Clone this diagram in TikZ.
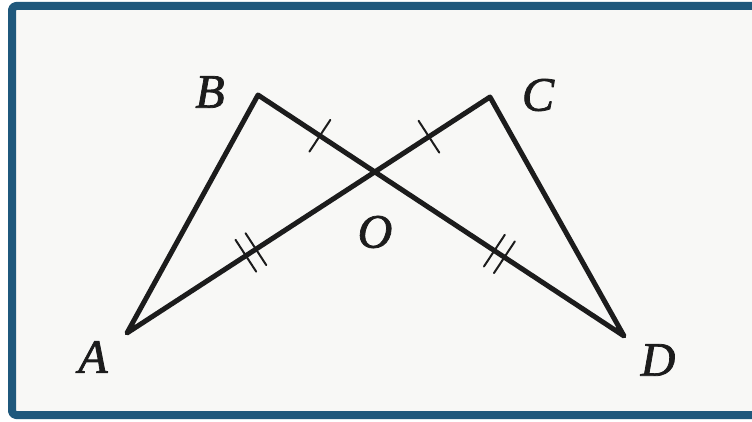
\documentclass[tikz,border=0pt]{standalone}
\usepackage{fontspec}
\setmainfont{Liberation Serif}
\newfontface\vface[FakeBold=1.6]{Liberation Serif Italic}
\usetikzlibrary{calc}
\definecolor{FRblue}{HTML}{1F587C}
\definecolor{FRpaper}{HTML}{F8F8F6}
\definecolor{FRink}{HTML}{1C1C1C}
% one tick / two ticks across the middle of a segment
\newcommand{\onetick}[2]{%
  \coordinate (mid) at ($(#1)!0.53!(#2)$);
  \draw[tick] ($(mid)!19pt!90:(#2)$) -- ($(mid)!19pt!-90:(#2)$);}
\newcommand{\twotick}[2]{%
  \foreach \d in {-6,6} {
    \coordinate (mid) at ($(#1)!0.5!(#2)!\d pt!(#2)$);
    \draw[tick] ($(mid)!19pt!90:(#2)$) -- ($(mid)!19pt!-90:(#2)$);
  }}

\begin{document}
\begin{tikzpicture}[
  x=1pt,y=1pt,
  line cap=round,line join=round,
  edge/.style={draw=FRink,line width=5pt},
  tick/.style={draw=FRink,line width=2pt},
  vlabel/.style={font=\vface\fontsize{48}{50}\selectfont,text=FRink,inner sep=0pt}
]
\useasboundingbox (0,0) rectangle (752,421);
\clip (0,0) rectangle (752,421);
\fill[white] (0,0) rectangle (752,421);
\fill[FRpaper] (12,6) rectangle (770,415);
\draw[FRblue,line width=8pt,rounded corners=4pt] (12,6) rectangle (770,415);

% vertices
\coordinate (A) at (127,88);
\coordinate (B) at (258,326);
\coordinate (C) at (490,324);
\coordinate (D) at (624,85);
\coordinate (O) at (intersection of B--D and A--C);

\draw[edge] (A) -- (B) -- (D) -- (C) -- cycle;

\onetick{B}{O}
\onetick{C}{O}
\twotick{A}{O}
\twotick{D}{O}

\node[vlabel] (lA) at (93,64) {A};
\node[vlabel] (lB) at (210,329) {B};
\node[vlabel] (lC) at (538,326) {C};
\node[vlabel] (lD) at (658,61) {D};
\node[vlabel] (lO) at (375,189) {O};

\end{tikzpicture}
\end{document}
